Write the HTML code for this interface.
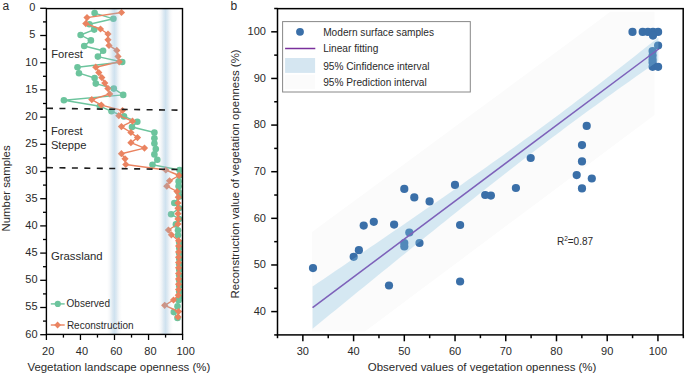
<!DOCTYPE html>
<html><head><meta charset="utf-8"><style>
html,body{margin:0;padding:0;background:#fff;}
body{width:685px;height:375px;overflow:hidden;}
svg{display:block;}
</style></head><body>
<svg width="685" height="375" viewBox="0 0 685 375" font-family='"Liberation Sans", sans-serif'>
<defs>
<linearGradient id="vb" x1="0" x2="1" y1="0" y2="0"><stop offset="0" stop-color="#c8d0d8" stop-opacity="0"/><stop offset="0.15" stop-color="#b8c8d4" stop-opacity="0.1"/><stop offset="0.36" stop-color="#90b8d6" stop-opacity="0.3"/><stop offset="0.5" stop-color="#87b6d7" stop-opacity="0.4"/><stop offset="0.64" stop-color="#90b8d6" stop-opacity="0.3"/><stop offset="0.85" stop-color="#b8c8d4" stop-opacity="0.1"/><stop offset="1" stop-color="#c8d0d8" stop-opacity="0"/></linearGradient>
<clipPath id="lclip"><rect x="46.4" y="8.6" width="136.1" height="325.8"/></clipPath>
</defs>
<rect width="685" height="375" fill="#fff"/>
<g clip-path="url(#lclip)">
<polyline points="94.6,13.1 113.4,18.8 89.4,24.2 94.2,29.6 80.6,35 90.9,40.4 84.2,46 103.1,50.8 97.9,56.6 122.2,62 77.5,67.2 79,73.2 94.6,78 95.8,83.6 113.8,88.6 123.2,94.9 63.9,100.2 99.9,106.2 111.5,111.3 124,116.4 137.3,121.8 132,127 154.4,132.5 154.4,138.3 154.4,143.5 155.8,149 154.4,154.4 157.3,159.8 152.5,164.8 179.6,170 179.6,175.5 178.6,181.4 178.6,186.2 178.6,192 179.6,196.5 174.3,203 179,208.3 171.1,214.2 179,219 175.9,224.4 178,230.2 178,235.3 179.2,242.5 179.2,248.0 179.2,253.4 179.2,258.8 179.2,264.3 179.2,269.7 179.2,275.2 179.2,280.6 179.2,286.0 179.2,291.5 179.2,296.9 178.6,300.3 177.5,306.2 173.8,312.1 177.5,318" fill="none" stroke="#6cc49d" stroke-width="1.4" stroke-linejoin="round"/>
<circle cx="94.6" cy="13.1" r="3.3" fill="#6cc49d"/>
<circle cx="113.4" cy="18.8" r="3.3" fill="#6cc49d"/>
<circle cx="89.4" cy="24.2" r="3.3" fill="#6cc49d"/>
<circle cx="94.2" cy="29.6" r="3.3" fill="#6cc49d"/>
<circle cx="80.6" cy="35" r="3.3" fill="#6cc49d"/>
<circle cx="90.9" cy="40.4" r="3.3" fill="#6cc49d"/>
<circle cx="84.2" cy="46" r="3.3" fill="#6cc49d"/>
<circle cx="103.1" cy="50.8" r="3.3" fill="#6cc49d"/>
<circle cx="97.9" cy="56.6" r="3.3" fill="#6cc49d"/>
<circle cx="122.2" cy="62" r="3.3" fill="#6cc49d"/>
<circle cx="77.5" cy="67.2" r="3.3" fill="#6cc49d"/>
<circle cx="79" cy="73.2" r="3.3" fill="#6cc49d"/>
<circle cx="94.6" cy="78" r="3.3" fill="#6cc49d"/>
<circle cx="95.8" cy="83.6" r="3.3" fill="#6cc49d"/>
<circle cx="113.8" cy="88.6" r="3.3" fill="#6cc49d"/>
<circle cx="123.2" cy="94.9" r="3.3" fill="#6cc49d"/>
<circle cx="63.9" cy="100.2" r="3.3" fill="#6cc49d"/>
<circle cx="99.9" cy="106.2" r="3.3" fill="#6cc49d"/>
<circle cx="111.5" cy="111.3" r="3.3" fill="#6cc49d"/>
<circle cx="124" cy="116.4" r="3.3" fill="#6cc49d"/>
<circle cx="137.3" cy="121.8" r="3.3" fill="#6cc49d"/>
<circle cx="132" cy="127" r="3.3" fill="#6cc49d"/>
<circle cx="154.4" cy="132.5" r="3.3" fill="#6cc49d"/>
<circle cx="154.4" cy="138.3" r="3.3" fill="#6cc49d"/>
<circle cx="154.4" cy="143.5" r="3.3" fill="#6cc49d"/>
<circle cx="155.8" cy="149" r="3.3" fill="#6cc49d"/>
<circle cx="154.4" cy="154.4" r="3.3" fill="#6cc49d"/>
<circle cx="157.3" cy="159.8" r="3.3" fill="#6cc49d"/>
<circle cx="152.5" cy="164.8" r="3.3" fill="#6cc49d"/>
<circle cx="179.6" cy="170" r="3.3" fill="#6cc49d"/>
<circle cx="179.6" cy="175.5" r="3.3" fill="#6cc49d"/>
<circle cx="178.6" cy="181.4" r="3.3" fill="#6cc49d"/>
<circle cx="178.6" cy="186.2" r="3.3" fill="#6cc49d"/>
<circle cx="178.6" cy="192" r="3.3" fill="#6cc49d"/>
<circle cx="179.6" cy="196.5" r="3.3" fill="#6cc49d"/>
<circle cx="174.3" cy="203" r="3.3" fill="#6cc49d"/>
<circle cx="179" cy="208.3" r="3.3" fill="#6cc49d"/>
<circle cx="171.1" cy="214.2" r="3.3" fill="#6cc49d"/>
<circle cx="179" cy="219" r="3.3" fill="#6cc49d"/>
<circle cx="175.9" cy="224.4" r="3.3" fill="#6cc49d"/>
<circle cx="178" cy="230.2" r="3.3" fill="#6cc49d"/>
<circle cx="178" cy="235.3" r="3.3" fill="#6cc49d"/>
<circle cx="179.2" cy="242.5" r="3.3" fill="#6cc49d"/>
<circle cx="179.2" cy="248.0" r="3.3" fill="#6cc49d"/>
<circle cx="179.2" cy="253.4" r="3.3" fill="#6cc49d"/>
<circle cx="179.2" cy="258.8" r="3.3" fill="#6cc49d"/>
<circle cx="179.2" cy="264.3" r="3.3" fill="#6cc49d"/>
<circle cx="179.2" cy="269.7" r="3.3" fill="#6cc49d"/>
<circle cx="179.2" cy="275.2" r="3.3" fill="#6cc49d"/>
<circle cx="179.2" cy="280.6" r="3.3" fill="#6cc49d"/>
<circle cx="179.2" cy="286.0" r="3.3" fill="#6cc49d"/>
<circle cx="179.2" cy="291.5" r="3.3" fill="#6cc49d"/>
<circle cx="179.2" cy="296.9" r="3.3" fill="#6cc49d"/>
<circle cx="178.6" cy="300.3" r="3.3" fill="#6cc49d"/>
<circle cx="177.5" cy="306.2" r="3.3" fill="#6cc49d"/>
<circle cx="173.8" cy="312.1" r="3.3" fill="#6cc49d"/>
<circle cx="177.5" cy="318" r="3.3" fill="#6cc49d"/>
<polyline points="121.5,12.5 87,17.6 85.8,23.6 100.5,29 108,34 108,39.8 109,45.4 116.8,50.4 118,56.4 119.2,61.8 95.8,67.2 98.8,72.6 101.8,77.6 104.8,83.1 107.9,88.4 109.8,94 91.8,99.6 101.3,105.1 122.5,110.5 118.8,115.7 132.5,121.2 121.4,126.6 130.9,132.5 137.5,137.6 130.9,142.7 144.5,148.1 121.4,153.7 125,158.8 125.8,164.5 165.8,170 179.1,175.5 169.5,180.8 166.8,186.2 177,191.5 178.3,197.2 178,203 178,208.3 178,213.7 178,219 178,224 168.4,230 171.4,234.8 178.6,240.7 178.6,246 178.6,251.9 178.6,257.2 178.6,262.6 178.6,267.8 178.6,273.5 178.6,278.9 178.6,284.2 178.6,289.6 178.3,295.2 173.5,300 164.7,305.3 178.6,311.5 178,316.9" fill="none" stroke="#ea8360" stroke-width="1.4" stroke-linejoin="round"/>
<polygon points="121.5,8.9 125.1,12.5 121.5,16.1 117.9,12.5" fill="#ea8360"/>
<polygon points="87,14.000000000000002 90.6,17.6 87,21.200000000000003 83.4,17.6" fill="#ea8360"/>
<polygon points="85.8,20.0 89.39999999999999,23.6 85.8,27.200000000000003 82.2,23.6" fill="#ea8360"/>
<polygon points="100.5,25.4 104.1,29 100.5,32.6 96.9,29" fill="#ea8360"/>
<polygon points="108,30.4 111.6,34 108,37.6 104.4,34" fill="#ea8360"/>
<polygon points="108,36.199999999999996 111.6,39.8 108,43.4 104.4,39.8" fill="#ea8360"/>
<polygon points="109,41.8 112.6,45.4 109,49.0 105.4,45.4" fill="#ea8360"/>
<polygon points="116.8,46.8 120.39999999999999,50.4 116.8,54.0 113.2,50.4" fill="#ea8360"/>
<polygon points="118,52.8 121.6,56.4 118,60.0 114.4,56.4" fill="#ea8360"/>
<polygon points="119.2,58.199999999999996 122.8,61.8 119.2,65.39999999999999 115.60000000000001,61.8" fill="#ea8360"/>
<polygon points="95.8,63.6 99.39999999999999,67.2 95.8,70.8 92.2,67.2" fill="#ea8360"/>
<polygon points="98.8,69.0 102.39999999999999,72.6 98.8,76.19999999999999 95.2,72.6" fill="#ea8360"/>
<polygon points="101.8,74.0 105.39999999999999,77.6 101.8,81.19999999999999 98.2,77.6" fill="#ea8360"/>
<polygon points="104.8,79.5 108.39999999999999,83.1 104.8,86.69999999999999 101.2,83.1" fill="#ea8360"/>
<polygon points="107.9,84.80000000000001 111.5,88.4 107.9,92.0 104.30000000000001,88.4" fill="#ea8360"/>
<polygon points="109.8,90.4 113.39999999999999,94 109.8,97.6 106.2,94" fill="#ea8360"/>
<polygon points="91.8,96.0 95.39999999999999,99.6 91.8,103.19999999999999 88.2,99.6" fill="#ea8360"/>
<polygon points="101.3,101.5 104.89999999999999,105.1 101.3,108.69999999999999 97.7,105.1" fill="#ea8360"/>
<polygon points="122.5,106.9 126.1,110.5 122.5,114.1 118.9,110.5" fill="#ea8360"/>
<polygon points="118.8,112.10000000000001 122.39999999999999,115.7 118.8,119.3 115.2,115.7" fill="#ea8360"/>
<polygon points="132.5,117.60000000000001 136.1,121.2 132.5,124.8 128.9,121.2" fill="#ea8360"/>
<polygon points="121.4,123.0 125.0,126.6 121.4,130.2 117.80000000000001,126.6" fill="#ea8360"/>
<polygon points="130.9,128.9 134.5,132.5 130.9,136.1 127.30000000000001,132.5" fill="#ea8360"/>
<polygon points="137.5,134.0 141.1,137.6 137.5,141.2 133.9,137.6" fill="#ea8360"/>
<polygon points="130.9,139.1 134.5,142.7 130.9,146.29999999999998 127.30000000000001,142.7" fill="#ea8360"/>
<polygon points="144.5,144.5 148.1,148.1 144.5,151.7 140.9,148.1" fill="#ea8360"/>
<polygon points="121.4,150.1 125.0,153.7 121.4,157.29999999999998 117.80000000000001,153.7" fill="#ea8360"/>
<polygon points="125,155.20000000000002 128.6,158.8 125,162.4 121.4,158.8" fill="#ea8360"/>
<polygon points="125.8,160.9 129.4,164.5 125.8,168.1 122.2,164.5" fill="#ea8360"/>
<polygon points="165.8,166.4 169.4,170 165.8,173.6 162.20000000000002,170" fill="#ea8360"/>
<polygon points="179.1,171.9 182.7,175.5 179.1,179.1 175.5,175.5" fill="#ea8360"/>
<polygon points="169.5,177.20000000000002 173.1,180.8 169.5,184.4 165.9,180.8" fill="#ea8360"/>
<polygon points="166.8,182.6 170.4,186.2 166.8,189.79999999999998 163.20000000000002,186.2" fill="#ea8360"/>
<polygon points="177,187.9 180.6,191.5 177,195.1 173.4,191.5" fill="#ea8360"/>
<polygon points="178.3,193.6 181.9,197.2 178.3,200.79999999999998 174.70000000000002,197.2" fill="#ea8360"/>
<polygon points="178,199.4 181.6,203 178,206.6 174.4,203" fill="#ea8360"/>
<polygon points="178,204.70000000000002 181.6,208.3 178,211.9 174.4,208.3" fill="#ea8360"/>
<polygon points="178,210.1 181.6,213.7 178,217.29999999999998 174.4,213.7" fill="#ea8360"/>
<polygon points="178,215.4 181.6,219 178,222.6 174.4,219" fill="#ea8360"/>
<polygon points="178,220.4 181.6,224 178,227.6 174.4,224" fill="#ea8360"/>
<polygon points="168.4,226.4 172.0,230 168.4,233.6 164.8,230" fill="#ea8360"/>
<polygon points="171.4,231.20000000000002 175.0,234.8 171.4,238.4 167.8,234.8" fill="#ea8360"/>
<polygon points="178.6,237.1 182.2,240.7 178.6,244.29999999999998 175.0,240.7" fill="#ea8360"/>
<polygon points="178.6,242.4 182.2,246 178.6,249.6 175.0,246" fill="#ea8360"/>
<polygon points="178.6,248.3 182.2,251.9 178.6,255.5 175.0,251.9" fill="#ea8360"/>
<polygon points="178.6,253.6 182.2,257.2 178.6,260.8 175.0,257.2" fill="#ea8360"/>
<polygon points="178.6,259.0 182.2,262.6 178.6,266.20000000000005 175.0,262.6" fill="#ea8360"/>
<polygon points="178.6,264.2 182.2,267.8 178.6,271.40000000000003 175.0,267.8" fill="#ea8360"/>
<polygon points="178.6,269.9 182.2,273.5 178.6,277.1 175.0,273.5" fill="#ea8360"/>
<polygon points="178.6,275.29999999999995 182.2,278.9 178.6,282.5 175.0,278.9" fill="#ea8360"/>
<polygon points="178.6,280.59999999999997 182.2,284.2 178.6,287.8 175.0,284.2" fill="#ea8360"/>
<polygon points="178.6,286.0 182.2,289.6 178.6,293.20000000000005 175.0,289.6" fill="#ea8360"/>
<polygon points="178.3,291.59999999999997 181.9,295.2 178.3,298.8 174.70000000000002,295.2" fill="#ea8360"/>
<polygon points="173.5,296.4 177.1,300 173.5,303.6 169.9,300" fill="#ea8360"/>
<polygon points="164.7,301.7 168.29999999999998,305.3 164.7,308.90000000000003 161.1,305.3" fill="#ea8360"/>
<polygon points="178.6,307.9 182.2,311.5 178.6,315.1 175.0,311.5" fill="#ea8360"/>
<polygon points="178,313.29999999999995 181.6,316.9 178,320.5 174.4,316.9" fill="#ea8360"/>
<rect x="106.9" y="8.6" width="15" height="325.8" fill="url(#vb)"/>
<rect x="158.0" y="8.6" width="15" height="325.8" fill="url(#vb)"/>
</g>
<line x1="47" y1="108.3" x2="181" y2="110.2" stroke="#1e1e1e" stroke-width="1.6" stroke-dasharray="6,6.45"/>
<line x1="47" y1="167.6" x2="181" y2="169.5" stroke="#1e1e1e" stroke-width="1.6" stroke-dasharray="6,6.45"/>
<rect x="46.4" y="8.6" width="136.1" height="325.8" fill="none" stroke="#000" stroke-width="1.4"/>
<line x1="40.2" y1="8.30" x2="46.4" y2="8.30" stroke="#000" stroke-width="1.3"/>
<text x="35.3" y="11.10" font-size="11" text-anchor="end" fill="#2a2a2a">0</text>
<line x1="43" y1="21.90" x2="46.4" y2="21.90" stroke="#000" stroke-width="1.3"/>
<line x1="40.2" y1="35.50" x2="46.4" y2="35.50" stroke="#000" stroke-width="1.3"/>
<text x="35.3" y="38.30" font-size="11" text-anchor="end" fill="#2a2a2a">5</text>
<line x1="43" y1="49.10" x2="46.4" y2="49.10" stroke="#000" stroke-width="1.3"/>
<line x1="40.2" y1="62.70" x2="46.4" y2="62.70" stroke="#000" stroke-width="1.3"/>
<text x="37.6" y="65.50" font-size="11" text-anchor="end" fill="#2a2a2a">10</text>
<line x1="43" y1="76.30" x2="46.4" y2="76.30" stroke="#000" stroke-width="1.3"/>
<line x1="40.2" y1="89.90" x2="46.4" y2="89.90" stroke="#000" stroke-width="1.3"/>
<text x="37.6" y="92.70" font-size="11" text-anchor="end" fill="#2a2a2a">15</text>
<line x1="43" y1="103.50" x2="46.4" y2="103.50" stroke="#000" stroke-width="1.3"/>
<line x1="40.2" y1="117.10" x2="46.4" y2="117.10" stroke="#000" stroke-width="1.3"/>
<text x="37.6" y="119.90" font-size="11" text-anchor="end" fill="#2a2a2a">20</text>
<line x1="43" y1="130.70" x2="46.4" y2="130.70" stroke="#000" stroke-width="1.3"/>
<line x1="40.2" y1="144.30" x2="46.4" y2="144.30" stroke="#000" stroke-width="1.3"/>
<text x="37.6" y="147.10" font-size="11" text-anchor="end" fill="#2a2a2a">25</text>
<line x1="43" y1="157.90" x2="46.4" y2="157.90" stroke="#000" stroke-width="1.3"/>
<line x1="40.2" y1="171.50" x2="46.4" y2="171.50" stroke="#000" stroke-width="1.3"/>
<text x="37.6" y="174.30" font-size="11" text-anchor="end" fill="#2a2a2a">30</text>
<line x1="43" y1="185.10" x2="46.4" y2="185.10" stroke="#000" stroke-width="1.3"/>
<line x1="40.2" y1="198.70" x2="46.4" y2="198.70" stroke="#000" stroke-width="1.3"/>
<text x="37.6" y="201.50" font-size="11" text-anchor="end" fill="#2a2a2a">35</text>
<line x1="43" y1="212.30" x2="46.4" y2="212.30" stroke="#000" stroke-width="1.3"/>
<line x1="40.2" y1="225.90" x2="46.4" y2="225.90" stroke="#000" stroke-width="1.3"/>
<text x="37.6" y="228.70" font-size="11" text-anchor="end" fill="#2a2a2a">40</text>
<line x1="43" y1="239.50" x2="46.4" y2="239.50" stroke="#000" stroke-width="1.3"/>
<line x1="40.2" y1="253.10" x2="46.4" y2="253.10" stroke="#000" stroke-width="1.3"/>
<text x="37.6" y="255.90" font-size="11" text-anchor="end" fill="#2a2a2a">45</text>
<line x1="43" y1="266.70" x2="46.4" y2="266.70" stroke="#000" stroke-width="1.3"/>
<line x1="40.2" y1="280.30" x2="46.4" y2="280.30" stroke="#000" stroke-width="1.3"/>
<text x="37.6" y="283.10" font-size="11" text-anchor="end" fill="#2a2a2a">50</text>
<line x1="43" y1="293.90" x2="46.4" y2="293.90" stroke="#000" stroke-width="1.3"/>
<line x1="40.2" y1="307.50" x2="46.4" y2="307.50" stroke="#000" stroke-width="1.3"/>
<text x="37.6" y="310.30" font-size="11" text-anchor="end" fill="#2a2a2a">55</text>
<line x1="43" y1="321.10" x2="46.4" y2="321.10" stroke="#000" stroke-width="1.3"/>
<line x1="40.2" y1="334.70" x2="46.4" y2="334.70" stroke="#000" stroke-width="1.3"/>
<text x="37.6" y="337.50" font-size="11" text-anchor="end" fill="#2a2a2a">60</text>
<line x1="46.40" y1="334.4" x2="46.40" y2="340" stroke="#000" stroke-width="1.3"/>
<text x="48.15" y="354.9" font-size="11" text-anchor="middle" fill="#2a2a2a">20</text>
<line x1="63.42" y1="334.4" x2="63.42" y2="337.6" stroke="#000" stroke-width="1.3"/>
<line x1="80.45" y1="334.4" x2="80.45" y2="340" stroke="#000" stroke-width="1.3"/>
<text x="81.95" y="354.9" font-size="11" text-anchor="middle" fill="#2a2a2a">40</text>
<line x1="97.47" y1="334.4" x2="97.47" y2="337.6" stroke="#000" stroke-width="1.3"/>
<line x1="114.50" y1="334.4" x2="114.50" y2="340" stroke="#000" stroke-width="1.3"/>
<text x="116.30" y="354.9" font-size="11" text-anchor="middle" fill="#2a2a2a">60</text>
<line x1="131.53" y1="334.4" x2="131.53" y2="337.6" stroke="#000" stroke-width="1.3"/>
<line x1="148.55" y1="334.4" x2="148.55" y2="340" stroke="#000" stroke-width="1.3"/>
<text x="150.45" y="354.9" font-size="11" text-anchor="middle" fill="#2a2a2a">80</text>
<line x1="165.57" y1="334.4" x2="165.57" y2="337.6" stroke="#000" stroke-width="1.3"/>
<line x1="182.60" y1="334.4" x2="182.60" y2="340" stroke="#000" stroke-width="1.3"/>
<text x="185.60" y="354.9" font-size="11" text-anchor="middle" fill="#2a2a2a">100</text>
<text x="27.4" y="370.6" font-size="11.43" fill="#2a2a2a">Vegetation landscape openness (%)</text>
<text transform="translate(9.6,231.5) rotate(-90)" font-size="11.4" fill="#2a2a2a">Number samples</text>
<text x="2.6" y="9.6" font-size="12" fill="#2a2a2a">a</text>
<text x="51.2" y="57.7" font-size="11.2" fill="#2a2a2a">Forest</text>
<text x="51.0" y="135.4" font-size="11.2" fill="#2a2a2a">Forest</text>
<text x="50.9" y="148.8" font-size="11.2" fill="#2a2a2a">Steppe</text>
<text x="50.9" y="259.6" font-size="11.35" fill="#2a2a2a">Grassland</text>
<line x1="50.8" y1="303.9" x2="64.7" y2="303.9" stroke="#6cc49d" stroke-width="1.4"/>
<circle cx="57.8" cy="303.9" r="3.1" fill="#6cc49d"/>
<text x="66.6" y="306.8" font-size="10" fill="#2a2a2a">Observed</text>
<line x1="50.8" y1="325" x2="64.7" y2="325" stroke="#ea8360" stroke-width="1.4"/>
<polygon points="57.6,321.6 61,325 57.6,328.4 54.2,325" fill="#ea8360"/>
<text x="66.9" y="329.1" font-size="10" fill="#2a2a2a">Reconstruction</text>
<polygon points="312.1,232.0 330,218.81 360,196.7 400,167.22 440,137.74 480,108.26 520,78.78 560,49.3 600,19.4 610.17,11.8 654.5,11.8 654.5,115.07 620,140.85 580,170.75 540,200.64 500,230.54 460,260.44 420,290.33 380,320.23 364.92,331.5 312.1,331.5" fill="#fbfbfb"/>
<circle cx="313" cy="268.1" r="4.1" fill="#3a6fa8"/>
<circle cx="353.7" cy="256.8" r="4.1" fill="#3a6fa8"/>
<circle cx="358.9" cy="250.2" r="4.1" fill="#3a6fa8"/>
<circle cx="363.7" cy="225.6" r="4.1" fill="#3a6fa8"/>
<circle cx="373.8" cy="221.8" r="4.1" fill="#3a6fa8"/>
<circle cx="389" cy="285.5" r="4.1" fill="#3a6fa8"/>
<circle cx="394.1" cy="224.6" r="4.1" fill="#3a6fa8"/>
<circle cx="404.3" cy="188.9" r="4.1" fill="#3a6fa8"/>
<circle cx="414.3" cy="197.4" r="4.1" fill="#3a6fa8"/>
<circle cx="429.6" cy="201.4" r="4.1" fill="#3a6fa8"/>
<circle cx="409.3" cy="232.5" r="4.1" fill="#3a6fa8"/>
<circle cx="404.3" cy="243" r="4.1" fill="#3a6fa8"/>
<circle cx="404.3" cy="246.5" r="4.1" fill="#3a6fa8"/>
<circle cx="419.5" cy="243" r="4.1" fill="#3a6fa8"/>
<circle cx="455" cy="184.9" r="4.1" fill="#3a6fa8"/>
<circle cx="460.1" cy="225" r="4.1" fill="#3a6fa8"/>
<circle cx="460.1" cy="281.5" r="4.1" fill="#3a6fa8"/>
<circle cx="485.2" cy="195" r="4.1" fill="#3a6fa8"/>
<circle cx="490.9" cy="195.6" r="4.1" fill="#3a6fa8"/>
<circle cx="515.9" cy="188" r="4.1" fill="#3a6fa8"/>
<circle cx="530.7" cy="158" r="4.1" fill="#3a6fa8"/>
<circle cx="582" cy="145.1" r="4.1" fill="#3a6fa8"/>
<circle cx="582" cy="161.4" r="4.1" fill="#3a6fa8"/>
<circle cx="576.7" cy="175.1" r="4.1" fill="#3a6fa8"/>
<circle cx="591.8" cy="178.5" r="4.1" fill="#3a6fa8"/>
<circle cx="582" cy="188.4" r="4.1" fill="#3a6fa8"/>
<circle cx="586.7" cy="125.9" r="4.1" fill="#3a6fa8"/>
<circle cx="632.5" cy="31.9" r="4.1" fill="#3a6fa8"/>
<circle cx="642.7" cy="31.9" r="4.1" fill="#3a6fa8"/>
<circle cx="647.9" cy="31.9" r="4.1" fill="#3a6fa8"/>
<circle cx="653" cy="31.9" r="4.1" fill="#3a6fa8"/>
<circle cx="658.1" cy="31.9" r="4.1" fill="#3a6fa8"/>
<circle cx="653" cy="35.6" r="4.1" fill="#3a6fa8"/>
<circle cx="658.1" cy="45.5" r="4.1" fill="#3a6fa8"/>
<circle cx="652.6" cy="51" r="4.1" fill="#3a6fa8"/>
<circle cx="652.6" cy="55.6" r="4.1" fill="#3a6fa8"/>
<circle cx="652.6" cy="59.5" r="4.1" fill="#3a6fa8"/>
<circle cx="652.6" cy="62.5" r="4.1" fill="#3a6fa8"/>
<circle cx="652.6" cy="66.8" r="4.1" fill="#3a6fa8"/>
<circle cx="658.1" cy="66.8" r="4.1" fill="#3a6fa8"/>
<line x1="312.6" y1="307.60" x2="658.6" y2="49.00" stroke="#7a35a8" stroke-width="1.55"/>
<polygon points="312.6,286.5 318.36,282.6 324.13,278.69 329.89,274.78 335.65,270.87 341.42,266.95 347.18,263.04 352.94,259.12 358.71,255.2 364.47,251.27 370.23,247.34 376.0,243.41 381.76,239.48 387.52,235.54 393.29,231.6 399.05,227.66 404.81,223.71 410.58,219.75 416.34,215.79 422.1,211.83 427.87,207.86 433.63,203.88 439.39,199.89 445.16,195.9 450.92,191.9 456.68,187.89 462.45,183.88 468.21,179.85 473.97,175.81 479.74,171.76 485.5,167.7 491.26,163.62 497.03,159.54 502.79,155.43 508.55,151.31 514.32,147.17 520.08,143.02 525.84,138.85 531.61,134.65 537.37,130.44 543.13,126.21 548.9,121.95 554.66,117.68 560.42,113.38 566.19,109.06 571.95,104.72 577.71,100.35 583.48,95.97 589.24,91.56 595.0,87.14 600.77,82.69 606.53,78.23 612.29,73.75 618.06,69.25 623.82,64.74 629.58,60.21 635.35,55.67 641.11,51.11 646.87,46.55 652.64,41.97 658.4,37.38 658.4,60.93 652.64,64.95 646.87,68.99 641.11,73.04 635.35,77.1 629.58,81.17 623.82,85.26 618.06,89.36 612.29,93.47 606.53,97.61 600.77,101.76 595.0,105.93 589.24,110.12 583.48,114.33 577.71,118.56 571.95,122.81 566.19,127.08 560.42,131.38 554.66,135.7 548.9,140.04 543.13,144.4 537.37,148.78 531.61,153.18 525.84,157.6 520.08,162.04 514.32,166.5 508.55,170.98 502.79,175.48 497.03,179.99 491.26,184.52 485.5,189.06 479.74,193.61 473.97,198.17 468.21,202.75 462.45,207.34 456.68,211.94 450.92,216.54 445.16,221.16 439.39,225.78 433.63,230.41 427.87,235.05 422.1,239.69 416.34,244.34 410.58,249.0 404.81,253.66 399.05,258.32 393.29,262.99 387.52,267.67 381.76,272.35 376.0,277.03 370.23,281.71 364.47,286.4 358.71,291.09 352.94,295.78 347.18,300.48 341.42,305.18 335.65,309.88 329.89,314.58 324.13,319.29 318.36,323.99 312.6,328.7" fill="#86c0e0" fill-opacity="0.32"/>
<text x="556.9" y="245" font-size="10" fill="#2a2a2a">R<tspan font-size="6.5" dy="-4">2</tspan><tspan dy="4">=0.87</tspan></text>
<rect x="282.6" y="21.6" width="187.7" height="70.4" fill="#fff" stroke="#888" stroke-width="1"/>
<circle cx="300" cy="31.8" r="3.9" fill="#3a6fa8"/>
<text x="323.2" y="36.1" font-size="10.15" fill="#2a2a2a">Modern surface samples</text>
<line x1="285.1" y1="48.5" x2="315.3" y2="48.5" stroke="#7a309c" stroke-width="1.5"/>
<text x="323.2" y="51.5" font-size="10.15" fill="#2a2a2a">Linear fitting</text>
<rect x="285.1" y="58" width="30" height="14.9" fill="#d5e6f1"/>
<text x="323.2" y="69.7" font-size="10.15" fill="#2a2a2a">95% Cinfidence interval</text>
<rect x="285.1" y="74.8" width="30" height="14.3" fill="#fbfbfb"/>
<text x="323.2" y="86.3" font-size="10.15" fill="#2a2a2a">95% Prediction interval</text>
<rect x="277.5" y="8.65" width="405.7" height="326.25" fill="none" stroke="#000" stroke-width="1.5"/>
<line x1="274.2" y1="334.92" x2="277.5" y2="334.92" stroke="#000" stroke-width="1.5"/>
<line x1="271.2" y1="311.60" x2="277.5" y2="311.60" stroke="#000" stroke-width="1.5"/>
<text x="265.9" y="314.80" font-size="11" text-anchor="end" fill="#2a2a2a">40</text>
<line x1="274.2" y1="288.29" x2="277.5" y2="288.29" stroke="#000" stroke-width="1.5"/>
<line x1="271.2" y1="264.97" x2="277.5" y2="264.97" stroke="#000" stroke-width="1.5"/>
<text x="265.9" y="268.17" font-size="11" text-anchor="end" fill="#2a2a2a">50</text>
<line x1="274.2" y1="241.66" x2="277.5" y2="241.66" stroke="#000" stroke-width="1.5"/>
<line x1="271.2" y1="218.34" x2="277.5" y2="218.34" stroke="#000" stroke-width="1.5"/>
<text x="265.9" y="221.54" font-size="11" text-anchor="end" fill="#2a2a2a">60</text>
<line x1="274.2" y1="195.03" x2="277.5" y2="195.03" stroke="#000" stroke-width="1.5"/>
<line x1="271.2" y1="171.71" x2="277.5" y2="171.71" stroke="#000" stroke-width="1.5"/>
<text x="265.9" y="174.91" font-size="11" text-anchor="end" fill="#2a2a2a">70</text>
<line x1="274.2" y1="148.40" x2="277.5" y2="148.40" stroke="#000" stroke-width="1.5"/>
<line x1="271.2" y1="125.08" x2="277.5" y2="125.08" stroke="#000" stroke-width="1.5"/>
<text x="265.9" y="128.28" font-size="11" text-anchor="end" fill="#2a2a2a">80</text>
<line x1="274.2" y1="101.77" x2="277.5" y2="101.77" stroke="#000" stroke-width="1.5"/>
<line x1="271.2" y1="78.45" x2="277.5" y2="78.45" stroke="#000" stroke-width="1.5"/>
<text x="265.9" y="81.65" font-size="11" text-anchor="end" fill="#2a2a2a">90</text>
<line x1="274.2" y1="55.13" x2="277.5" y2="55.13" stroke="#000" stroke-width="1.5"/>
<line x1="271.2" y1="31.82" x2="277.5" y2="31.82" stroke="#000" stroke-width="1.5"/>
<text x="265.9" y="35.02" font-size="11" text-anchor="end" fill="#2a2a2a">100</text>
<line x1="274.2" y1="8.50" x2="277.5" y2="8.50" stroke="#000" stroke-width="1.5"/>
<line x1="277.50" y1="334.9" x2="277.50" y2="338.2" stroke="#000" stroke-width="1.5"/>
<line x1="302.86" y1="334.9" x2="302.86" y2="341.3" stroke="#000" stroke-width="1.5"/>
<text x="302.86" y="355.2" font-size="11" text-anchor="middle" fill="#2a2a2a">30</text>
<line x1="328.23" y1="334.9" x2="328.23" y2="338.2" stroke="#000" stroke-width="1.5"/>
<line x1="353.59" y1="334.9" x2="353.59" y2="341.3" stroke="#000" stroke-width="1.5"/>
<text x="353.59" y="355.2" font-size="11" text-anchor="middle" fill="#2a2a2a">40</text>
<line x1="378.95" y1="334.9" x2="378.95" y2="338.2" stroke="#000" stroke-width="1.5"/>
<line x1="404.31" y1="334.9" x2="404.31" y2="341.3" stroke="#000" stroke-width="1.5"/>
<text x="404.31" y="355.2" font-size="11" text-anchor="middle" fill="#2a2a2a">50</text>
<line x1="429.67" y1="334.9" x2="429.67" y2="338.2" stroke="#000" stroke-width="1.5"/>
<line x1="455.04" y1="334.9" x2="455.04" y2="341.3" stroke="#000" stroke-width="1.5"/>
<text x="455.04" y="355.2" font-size="11" text-anchor="middle" fill="#2a2a2a">60</text>
<line x1="480.40" y1="334.9" x2="480.40" y2="338.2" stroke="#000" stroke-width="1.5"/>
<line x1="505.76" y1="334.9" x2="505.76" y2="341.3" stroke="#000" stroke-width="1.5"/>
<text x="505.76" y="355.2" font-size="11" text-anchor="middle" fill="#2a2a2a">70</text>
<line x1="531.12" y1="334.9" x2="531.12" y2="338.2" stroke="#000" stroke-width="1.5"/>
<line x1="556.49" y1="334.9" x2="556.49" y2="341.3" stroke="#000" stroke-width="1.5"/>
<text x="556.49" y="355.2" font-size="11" text-anchor="middle" fill="#2a2a2a">80</text>
<line x1="581.85" y1="334.9" x2="581.85" y2="338.2" stroke="#000" stroke-width="1.5"/>
<line x1="607.21" y1="334.9" x2="607.21" y2="341.3" stroke="#000" stroke-width="1.5"/>
<text x="607.21" y="355.2" font-size="11" text-anchor="middle" fill="#2a2a2a">90</text>
<line x1="632.58" y1="334.9" x2="632.58" y2="338.2" stroke="#000" stroke-width="1.5"/>
<line x1="657.94" y1="334.9" x2="657.94" y2="341.3" stroke="#000" stroke-width="1.5"/>
<text x="657.94" y="355.2" font-size="11" text-anchor="middle" fill="#2a2a2a">100</text>
<line x1="683.30" y1="334.9" x2="683.30" y2="338.2" stroke="#000" stroke-width="1.5"/>
<text x="367.8" y="370.8" font-size="11.46" fill="#2a2a2a">Observed values of vegetation openness (%)</text>
<text transform="translate(239.4,298.6) rotate(-90)" font-size="11.45" fill="#2a2a2a">Reconstruction value of vegetation openness (%)</text>
<text x="230.6" y="10" font-size="12" fill="#2a2a2a">b</text>
</svg>
</body></html>
